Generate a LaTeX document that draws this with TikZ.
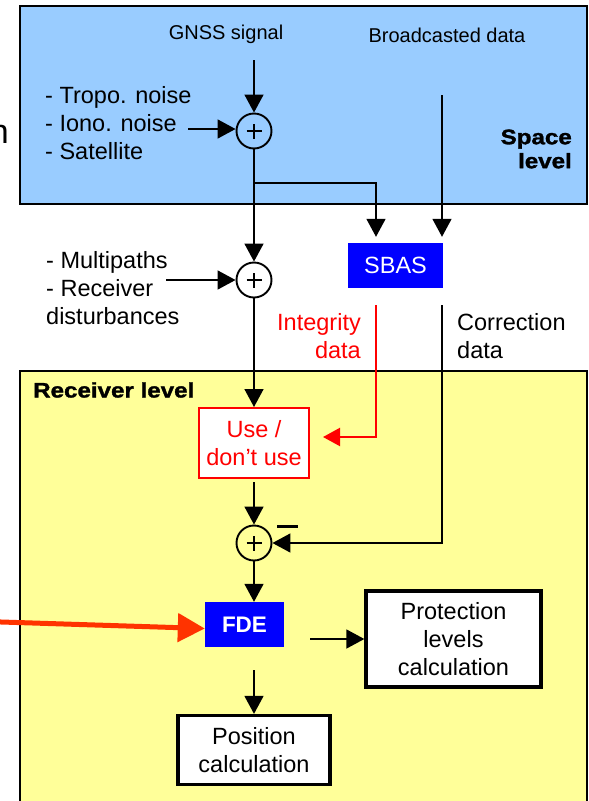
\documentclass[tikz,border=0pt]{standalone}
\usepackage{fontspec}
\setmainfont{Liberation Sans}
\newfontfamily\heavyfont[FakeBold=1.5,FakeStretch=1.15]{Liberation Sans Bold}
\usetikzlibrary{arrows.meta}

\definecolor{skyfill}{RGB}{153,204,255}
\definecolor{padfill}{RGB}{255,255,153}
\definecolor{sbasblue}{RGB}{0,0,255}
\definecolor{alertred}{RGB}{255,0,0}
\definecolor{pointer}{RGB}{255,51,0}

\tikzset{
  conn/.style={line width=1.6pt, -{Triangle[length=18pt,width=19pt]}},
  redconn/.style={draw=alertred, line width=2.2pt, -{Triangle[length=17pt,width=18pt]}},
  bigconn/.style={draw=pointer, line width=5pt, -{Triangle[length=27pt,width=28pt]}},
  txt/.style={font=\fontsize{23.5}{28}\selectfont, inner sep=0pt},
  smalltxt/.style={font=\fontsize{20}{24}\selectfont, inner sep=0pt},
  heavytxt/.style={font=\heavyfont\fontsize{21}{24}\selectfont, inner sep=0pt},
  sumnode/.style={circle, draw, line width=1.9pt, minimum size=35pt, inner sep=0pt,
    path picture={
      \draw[line width=1.9pt] ([xshift=-7.5pt]path picture bounding box.center) -- ([xshift=7.5pt]path picture bounding box.center);
      \draw[line width=1.9pt] ([yshift=-7.5pt]path picture bounding box.center) -- ([yshift=7.5pt]path picture bounding box.center);
    }},
  bluebox/.style={rectangle, fill=sbasblue, text=white, inner sep=0pt, font=\fontsize{23.5}{28}\selectfont},
  calcbox/.style={rectangle, draw, fill=white, line width=3.3pt, inner sep=0pt, align=center, font=\fontsize{23.5}{28}\selectfont},
  usebox/.style={rectangle, draw=alertred, fill=white, text=alertred, line width=2pt, inner sep=0pt, align=center, font=\fontsize{23.5}{28}\selectfont}
}

\begin{document}
\begin{tikzpicture}[x=1pt,y=-1pt]
\useasboundingbox (0,0) rectangle (589,801);

% level panels
\draw[fill=skyfill, line width=2pt] (20,6) rectangle (587,204);
\draw[fill=padfill, line width=1.6pt] (20,371) rectangle (587,830);

% clipped word at the left margin
\node[font=\fontsize{34}{40}\selectfont, anchor=base east, inner sep=0pt] (cut) at (9,143) {n};

% space level
\node[smalltxt] (gnsslbl) at (226,34) {GNSS signal};
\node[smalltxt] (bcastlbl) at (447,35) {Broadcasted data};
\node[txt, align=left, anchor=west] (noise) at (45,123) {- Tropo. noise\\- Iono. noise\\- Satellite};
\node[heavytxt, align=right, anchor=east] (spacelbl) at (572,149) {Space\\level};

\node[sumnode] (c1) at (254,131) {};
\coordinate (gnss) at (254,60);
\coordinate (noisesrc) at (188,129);
\coordinate (bcast) at (442,95);
\coordinate (split) at (254,183);

% between levels
\node[sumnode] (c2) at (254,280) {};
\node[txt, align=left, anchor=west] (multi) at (46,288) {- Multipaths\\- Receiver\\disturbances};
\coordinate (multisrc) at (166,280);
\node[bluebox, minimum width=95pt, minimum height=45pt] (sbas) at (395.5,265.5) {SBAS};
\node[txt, align=right, anchor=east, text=alertred] (integlbl) at (361,336) {Integrity\\data};
\node[txt, align=left, anchor=west] (corrlbl) at (457,336) {Correction\\data};
\coordinate (integ) at (376,305);
\coordinate (integturn) at (376,437);
\coordinate (corr) at (442,305);

% receiver level
\node[heavytxt, anchor=west] (rxlbl) at (33,390) {Receiver level};
\node[usebox, minimum width=110pt, minimum height=70pt] (use) at (254,443) {Use /\\don’t use};
\node[sumnode] (c3) at (254,543) {};
\node[bluebox, minimum width=79pt, minimum height=45pt, font=\bfseries\fontsize{22.5}{28}\selectfont] (fde) at (244.5,624.5) {FDE};
\node[calcbox, minimum width=175pt, minimum height=96pt] (prot) at (453.5,639) {Protection\\levels\\calculation};
\node[calcbox, minimum width=152pt, minimum height=69pt] (pos) at (254,750) {Position\\calculation};
\coordinate (ext) at (-30,621);

% connectors
\draw[conn] (gnss) -- (c1);
\draw[conn] (noisesrc) -- (noisesrc -| c1.west);
\draw[conn] (c1) -- (c2);
\draw[conn, shorten >=6pt] (split) -| ([xshift=-19.5pt]sbas.north);
\draw[conn, shorten >=6pt] (bcast) -- (bcast |- sbas.north);
\draw[conn] (multisrc) -- (c2);
\draw[conn] (c2) -- (use);
\draw[redconn] (integ) -- (integturn) -- ([xshift=13pt]use.east |- integturn);
\draw[conn] (corr) |- (c3);
\draw[conn, shorten <=3pt] (use) -- (c3);
\draw[conn] (c3) -- (c3 |- fde.north);
\draw[conn, shorten <=23pt] (c3 |- fde.south) -- (pos);
\draw[conn, shorten <=26pt] (fde.east |- prot.west) -- (prot.west);
\draw[bigconn] (ext) -- ([yshift=-4pt]fde.west);

% minus mark of the correction input
\draw[line width=3pt] (277,526) -- (298,526);
\end{tikzpicture}
\end{document}
